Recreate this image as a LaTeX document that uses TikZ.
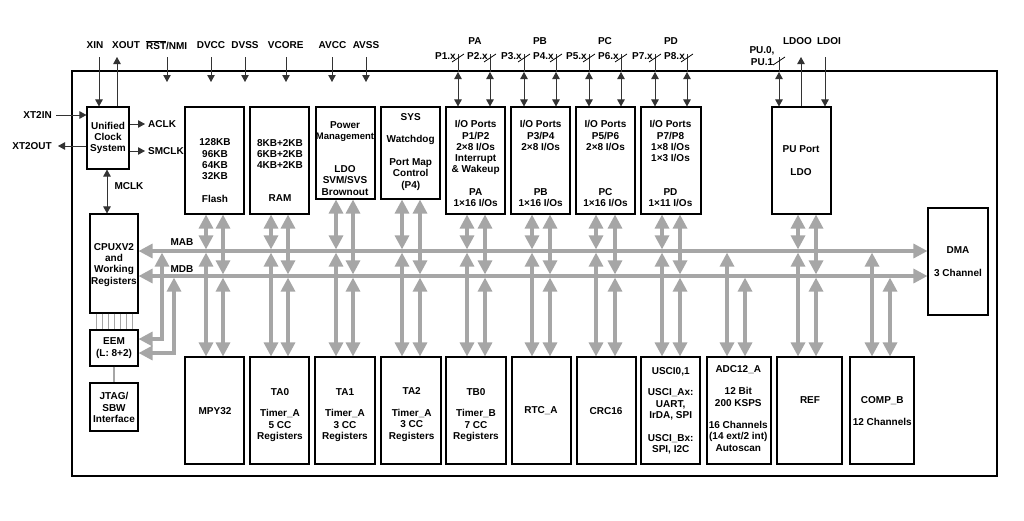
\documentclass[tikz,border=0pt]{standalone}
\usepackage{fontspec}
\setmainfont{Liberation Sans}
\usetikzlibrary{arrows.meta,calc}
\newcommand\mkbox[5]{\node[blk, minimum width={(#4-#2)*1pt}, minimum height={(#5-#3)*1pt}] (#1) at ({(#2+#4)/2},{(#3+#5)/2}) {};}
\begin{document}
\begin{tikzpicture}[x=1pt,y=-1pt,
  blk/.style={draw=black, line width=1.1pt, inner sep=0pt},
  lbl/.style={font=\bfseries\fontsize{10}{11.3}\selectfont, align=center, inner sep=0pt},
  pinln/.style={draw=black!80, line width=0.9pt},
  pin/.style={draw=black!80, line width=0.9pt, -{Triangle[width=7.5pt,length=7pt]}},
  pinb/.style={draw=black!80, line width=0.9pt, {Triangle[width=7.5pt,length=7pt]}-{Triangle[width=7.5pt,length=7pt]}},
  bus/.style={draw=black!35, line width=3.2pt, {Triangle[width=14pt,length=14pt]}-{Triangle[width=14pt,length=14pt]}},
  thinl/.style={draw=black!35, line width=0.8pt}]
\useasboundingbox (0,0) rectangle (1024,520);
\fill[white] (0,0) rectangle (1024,520);

% outer chip border
\node[draw=black, line width=2.2pt, minimum width=925pt, minimum height=405pt, inner sep=0pt] (chip) at (534.5,273.5) {};

% blocks
\mkbox{clk}{87}{107}{129}{169}
\mkbox{flash}{185}{107}{244}{214}
\mkbox{ram}{250}{107}{309}{214}
\mkbox{pwr}{316}{107}{375}{199}
\mkbox{sys}{381}{107}{440}{199}
\mkbox{pa}{446}{107}{505}{214}
\mkbox{pb}{511}{107}{570}{214}
\mkbox{pc}{576}{107}{635}{214}
\mkbox{pd}{641}{107}{701}{214}
\mkbox{pu}{772}{107}{831}{214}
\mkbox{cpu}{90}{214}{138}{313}
\mkbox{dma}{928}{208}{988}{315}
\mkbox{eem}{90}{330}{138}{366}
\mkbox{jtag}{90}{383}{138}{431}
\mkbox{mpy}{185}{357}{244}{464}
\mkbox{ta0}{250}{357}{309}{464}
\mkbox{ta1}{315}{357}{375}{464}
\mkbox{ta2}{381}{357}{441}{464}
\mkbox{tb0}{446}{357}{506}{464}
\mkbox{rtc}{512}{357}{571}{464}
\mkbox{crc}{577}{357}{636}{464}
\mkbox{usci}{641}{357}{700}{464}
\mkbox{adc}{707}{357}{771}{464}
\mkbox{ref}{777}{357}{842}{464}
\mkbox{comp}{850}{357}{914}{464}

% buses
\coordinate (mab) at (0,251);
\coordinate (mdb) at (0,276);
\draw[bus] (cpu.east |- mab) -- (dma.west |- mab);
\draw[bus] (cpu.east |- mdb) -- (dma.west |- mdb);
\node[lbl] (lmab) at (182,242) {MAB};
\node[lbl] (lmdb) at (182,269) {MDB};

\foreach \xa/\xb/\tp/\bt in {206/223/flash/mpy, 271/288/ram/ta0, 336/353/pwr/ta1, 402/420/sys/ta2, 467/485/pa/tb0, 532/550/pb/rtc, 596/615/pc/crc, 662/680/pd/usci, 798/816/pu/ref}{
  \draw[bus] (\xa,0 |- \tp.south) -- ($(\xa,0 |- mab)+(0,-1.6)$);
  \draw[bus] (\xb,0 |- \tp.south) -- ($(\xb,0 |- mdb)+(0,-1.6)$);
  \draw[bus] ($(\xa,0 |- mab)+(0,1.6)$) -- (\xa,0 |- \bt.north);
  \draw[bus] ($(\xb,0 |- mdb)+(0,1.6)$) -- (\xb,0 |- \bt.north);
}
\foreach \xa/\xb/\bt in {727/745/adc, 872/890/comp}{
  \draw[bus] ($(\xa,0 |- mab)+(0,1.6)$) -- (\xa,0 |- \bt.north);
  \draw[bus] ($(\xb,0 |- mdb)+(0,1.6)$) -- (\xb,0 |- \bt.north);
}
% EEM links
\draw[bus] (eem.east |- 0,339) -| ($(162,0 |- mab)+(0,1.6)$);
\draw[bus] (eem.east |- 0,353) -| ($(174,0 |- mdb)+(0,1.6)$);
\foreach \x in {96,102,108,114,120,126,132}
  \draw[thinl] (\x,0 |- cpu.south) -- (\x,0 |- eem.north);
\draw[draw=black!35, line width=1.6pt] (eem.south) -- (jtag.north);

% top-left pins
\coordinate (pxin) at (99,57);
\draw[pin] (pxin) -- (pxin |- clk.north);
\coordinate (pxout) at (117,57);
\draw[pin] (pxout |- clk.north) -- (pxout);
\foreach \x/\nn in {167/rst, 211/dvcc, 245/dvss, 286/vcore, 332/avcc, 366/avss}{
  \coordinate (p\nn) at (\x,57);
  \coordinate (q\nn) at (\x,82);
  \draw[pin] (p\nn) -- (q\nn);
}
\node[lbl] (lxin) at (95,45) {XIN};
\node[lbl] (lxout) at (126,45) {XOUT};
\node[lbl] (lrst) at (166.7,45) {$\overline{\mbox{RST}}$/NMI};
\node[lbl] (ldvcc) at (211,45) {DVCC};
\node[lbl] (ldvss) at (245,45) {DVSS};
\node[lbl] (lvcore) at (285.7,45) {VCORE};
\node[lbl] (lavcc) at (332.5,45) {AVCC};
\node[lbl] (lavss) at (366,45) {AVSS};

% clock side signals
\coordinate (xt2in) at (56,115);
\draw[pin] (xt2in) -- (clk.west |- xt2in);
\node[lbl, anchor=east] (lxt2in) at (52,115) {XT2IN};
\coordinate (xt2out) at (58,146);
\draw[pin] (clk.west |- xt2out) -- (xt2out);
\node[lbl, anchor=east] (lxt2out) at (52,146) {XT2OUT};
\coordinate (aclk) at (145,124);
\draw[pin] (clk.east |- aclk) -- (aclk);
\node[lbl, anchor=west] (laclk) at (148,124) {ACLK};
\coordinate (smclk) at (145,151);
\draw[pin] (clk.east |- smclk) -- (smclk);
\node[lbl, anchor=west] (lsmclk) at (148,151) {SMCLK};
\draw[pinb] (107,0 |- clk.south) -- (107,0 |- cpu.north);
\node[lbl] (lmclk) at (129,186) {MCLK};

% port pins
\foreach \x/\nn/\bk in {458/1/pa, 490/2/pa, 524/3/pb, 556/4/pb, 589/5/pc, 621/6/pc, 655/7/pd, 687/8/pd}{
  \coordinate (pp\nn) at (\x,54);
  \coordinate (pb\nn) at (\x,72);
  \draw[pinln] (pp\nn) -- (pb\nn);
  \draw[pinb] (pb\nn) -- (pb\nn |- \bk.north);
  \draw[line width=0.8pt] (\x-6,62) -- (\x+6,54);
  \node[lbl, anchor=east] (pl\nn) at (\x-2,56) {P\nn.x};
}
\node[lbl] (lpa) at (475,41) {PA};
\node[lbl] (lpb) at (540,41) {PB};
\node[lbl] (lpc) at (605,41) {PC};
\node[lbl] (lpd) at (671,41) {PD};

% PU pins
\coordinate (pup) at (779,57);
\coordinate (pub) at (779,72);
\draw[pinln] (pup) -- (pub);
\draw[pinb] (pub) -- (pub |- pu.north);
\draw[line width=0.8pt] (773,65) -- (785,57);
\node[lbl] (lpu) at (762,56) {PU.0,\\[0.4pt]PU.1};
\coordinate (ldoo) at (801,57);
\draw[pin] (ldoo |- pu.north) -- (ldoo);
\coordinate (ldoi) at (825,57);
\draw[pin] (ldoi) -- (ldoi |- pu.north);
\node[lbl] (lldoo) at (797.5,41) {LDOO};
\node[lbl] (lldoi) at (829,41) {LDOI};

% block texts
\node[lbl] (tclk) at (108,138) {Unified\\Clock\\System};
\node[lbl] (tflash) at (215,170.5) {128KB\\96KB\\64KB\\32KB\\[11pt]Flash};
\node[lbl] (tram) at (280,170.3) {8KB+2KB\\6KB+2KB\\4KB+2KB\\[21.4pt]RAM};
\node[lbl] (tpwr) at (345,158.3) {Power\\{\fontsize{9.5}{11.3}\selectfont Management}\\[22pt]LDO\\SVM/SVS\\Brownout};
\node[lbl] (tsys) at (410.7,151.7) {SYS\\[11.3pt]Watchdog\\[11.3pt]Port Map\\Control\\(P4)};
\node[lbl] (tpa) at (475.7,163.8) {I/O Ports\\P1/P2\\2×8 I/Os\\Interrupt\\\& Wakeup\\[11.3pt]PA\\1×16 I/Os};
\node[lbl] (tpb) at (540.7,163.8) {I/O Ports\\P3/P4\\2×8 I/Os\\[33.9pt]PB\\1×16 I/Os};
\node[lbl] (tpc) at (605.5,163.8) {I/O Ports\\P5/P6\\2×8 I/Os\\[33.9pt]PC\\1×16 I/Os};
\node[lbl] (tpd) at (670.5,163.8) {I/O Ports\\P7/P8\\1×8 I/Os\\1×3 I/Os\\[22.6pt]PD\\1×11 I/Os};
\node[lbl] (tpu) at (801,160.8) {PU Port\\[11.7pt]LDO};
\node[lbl] (tdma) at (958,261.7) {DMA\\[11.7pt]3 Channel};
\node[lbl] (tcpu) at (114,264.8) {CPUXV2\\and\\Working\\Registers};
\node[lbl] (teem) at (114,348) {EEM\\[1.3pt](L: 8+2)};
\node[lbl] (tjtag) at (114,407.5) {JTAG/\\SBW\\Interface};
\node[lbl] (tmpy) at (215,411) {MPY32};
\node[lbl] (tta0) at (280,414.8) {TA0\\[10.4pt]Timer\_A\\5 CC\\Registers};
\node[lbl] (tta1) at (345,414.8) {TA1\\[10.4pt]Timer\_A\\3 CC\\Registers};
\node[lbl] (tta2) at (411.7,414.5) {TA2\\[10.4pt]Timer\_A\\3 CC\\Registers};
\node[lbl] (ttb0) at (476,414.8) {TB0\\[10.4pt]Timer\_B\\7 CC\\Registers};
\node[lbl] (trtc) at (541,411) {RTC\_A};
\node[lbl] (tcrc) at (606,411) {CRC16};
\node[lbl] (tusci) at (670.7,410.6) {USCI0,1\\[10.3pt]USCI\_Ax:\\UART,\\IrDA, SPI\\[11.3pt]USCI\_Bx:\\SPI, I2C};
\node[lbl] (tadc) at (738.3,408.2) {ADC12\_A\\[11.3pt]12 Bit\\200 KSPS\\[11.3pt]16 Channels\\(14 ext/2 int)\\Autoscan};
\node[lbl] (tref) at (810,400) {REF};
\node[lbl] (tcomp) at (882.3,411.2) {COMP\_B\\[11pt]12 Channels};
\end{tikzpicture}
\end{document}
